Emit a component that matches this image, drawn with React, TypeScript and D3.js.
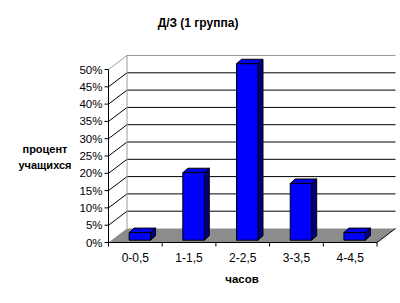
import React from "react";
import * as d3 from "d3";

const categories = ["0-0,5", "1-1,5", "2-2,5", "3-3,5", "4-4,5"];
const values = [2.2, 19.5, 51, 16.4, 2.2];
const yTicks = [0, 5, 10, 15, 20, 25, 30, 35, 40, 45, 50];
const title = "Д/З (1 группа)";
const yTitle = ["процент", "учащихся"];
const xTitle = "часов";

const W = 400;
const H = 303;
const FONT = "'Liberation Sans', Arial, sans-serif";

export default function App() {
  const x0 = 108.5;
  const x1 = 377;
  const yFront = d3.scaleLinear().domain([0, 50]).range([242.5, 69.5]);
  const depth = { dx: 18.5, dy: -14 };
  const barOff = { dx: 4.5, dy: -2.3 };
  const barDepth = { dx: 5, dy: -4.5 };
  const xBand = d3
    .scaleBand<string>()
    .domain(categories)
    .range([x0, x1])
    .paddingInner(0.6)
    .paddingOuter(0.3);
  const bw = xBand.bandwidth();
  const step = xBand.step();
  const yBack = (v: number) => yFront(v) + depth.dy;
  const bx0 = x0 + depth.dx;
  const bx1 = x1 + depth.dx;

  const floor = [
    [x0, yFront(0)],
    [x1, yFront(0)],
    [bx1, yBack(0)],
    [bx0, yBack(0)],
  ];

  return (
    <svg
      width={W}
      height={H}
      style={{ position: "absolute", left: 0, top: 0, background: "#fff" }}
      fontFamily={FONT}
    >
      <rect x={0} y={0} width={W} height={H} fill="#fff" />
      <text x={198} y={27} textAnchor="middle" fontSize={12} fontWeight="bold">
        {title}
      </text>
      {/* back wall gridlines */}
      {yTicks.slice(1).map((t) => (
        <line
          key={"g" + t}
          x1={bx0}
          x2={bx1}
          y1={yBack(t)}
          y2={yBack(t)}
          stroke={t === 50 ? "#9a9a9a" : "#000"}
          strokeWidth={1}
        />
      ))}
      {/* side wall obliques */}
      {yTicks.slice(1).map((t) => (
        <line
          key={"s" + t}
          x1={x0}
          x2={bx0}
          y1={yFront(t)}
          y2={yBack(t)}
          stroke={t === 50 ? "#9a9a9a" : "#000"}
          strokeWidth={1}
        />
      ))}
      <line x1={bx0} x2={bx0} y1={yBack(50)} y2={yBack(0)} stroke="#9a9a9a" />
      {/* floor */}
      <polygon
        points={floor.map((p) => p.join(",")).join(" ")}
        fill="#8c8c8c"
        stroke="none"
      />
      <line x1={x1} y1={yFront(0)} x2={bx1} y2={yBack(0)} stroke="#000" />
      {/* bars */}
      {categories.map((c, i) => {
        const v = values[i];
        const fx0 = (xBand(c) as number) + barOff.dx;
        const fx1 = fx0 + bw;
        const fy0 = yFront(0) + barOff.dy;
        const fy1 = yFront(v) + barOff.dy;
        const { dx, dy } = barDepth;
        return (
          <g key={c} stroke="#000" strokeWidth={1} strokeLinejoin="round">
            <polygon
              points={`${fx1},${fy1} ${fx1 + dx},${fy1 + dy} ${fx1 + dx},${fy0 + dy} ${fx1},${fy0}`}
              fill="#000080"
            />
            <polygon
              points={`${fx0},${fy1} ${fx0 + dx},${fy1 + dy} ${fx1 + dx},${fy1 + dy} ${fx1},${fy1}`}
              fill="#0000e6"
            />
            <rect x={fx0} y={fy1} width={bw} height={fy0 - fy1} fill="#0000ff" />
          </g>
        );
      })}
      {/* value axis */}
      <line x1={x0} x2={x0} y1={yFront(50)} y2={yFront(0)} stroke="#000" />
      {yTicks.map((t) => (
        <g key={"t" + t}>
          <line x1={x0 - 4} x2={x0} y1={yFront(t)} y2={yFront(t)} stroke="#000" />
          <text
            x={x0 - 6}
            y={yFront(t)}
            dy="0.35em"
            textAnchor="end"
            fontSize={11.5}
          >
            {t + "%"}
          </text>
        </g>
      ))}
      {/* category axis */}
      <line x1={x0} x2={x1} y1={yFront(0)} y2={yFront(0)} stroke="#000" />
      {categories.map((c, i) => (
        <line
          key={"ct" + i}
          x1={x0 + i * step}
          x2={x0 + i * step}
          y1={yFront(0)}
          y2={yFront(0) + 4}
          stroke="#000"
        />
      ))}
      <line x1={x1} x2={x1} y1={yFront(0)} y2={yFront(0) + 4} stroke="#000" />
      {categories.map((c) => (
        <text
          key={"cl" + c}
          x={(xBand(c) as number) + bw / 2}
          y={262}
          textAnchor="middle"
          fontSize={12}
        >
          {c}
        </text>
      ))}
      <text x={242} y={283} textAnchor="middle" fontSize={11.5} fontWeight="bold">
        {xTitle}
      </text>
      {yTitle.map((s, i) => (
        <text
          key={s}
          x={45}
          y={153 + i * 16}
          textAnchor="middle"
          fontSize={11}
          fontWeight="bold"
        >
          {s}
        </text>
      ))}
    </svg>
  );
}
